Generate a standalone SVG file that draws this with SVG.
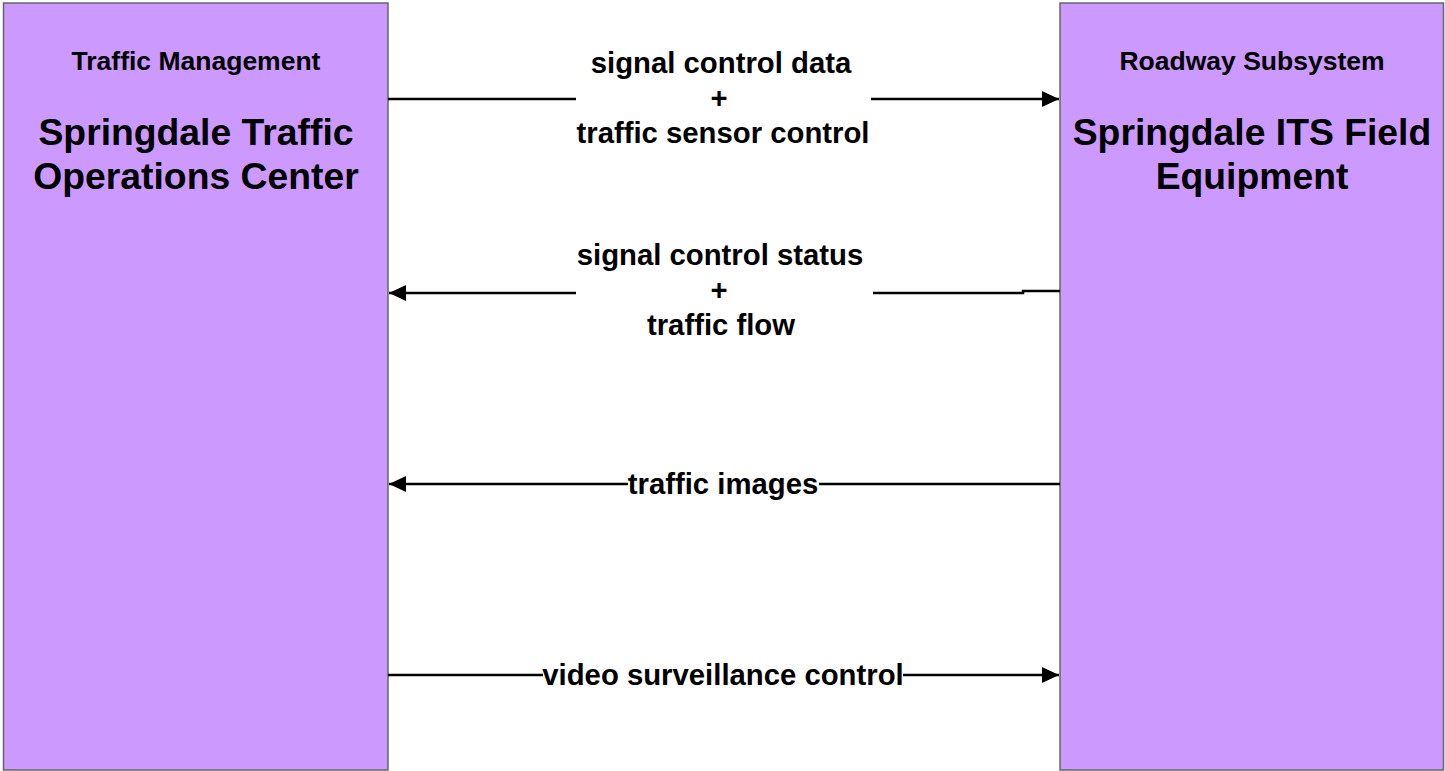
<svg xmlns="http://www.w3.org/2000/svg" width="1445" height="771" viewBox="0 0 1445 771">
<style>
.node{fill:#CC99FF;stroke:#666666;stroke-width:1.5}
.hdr{font-family:"Liberation Sans",Arial,sans-serif;font-weight:bold;font-size:26.5px;text-anchor:middle;fill:#000}
.ttl{font-family:"Liberation Sans",Arial,sans-serif;font-weight:bold;font-size:37.3px;text-anchor:middle;fill:#000}
.lbl{font-family:"Liberation Sans",Arial,sans-serif;font-weight:bold;font-size:29.3px;text-anchor:middle;fill:#000}
.ln{fill:none;stroke:#000;stroke-width:2.5}
</style>
<defs>
<marker id="ah" markerWidth="17" markerHeight="16" refX="17" refY="8" orient="auto" markerUnits="userSpaceOnUse">
<path d="M0,0 L17,8 L0,16 Z" fill="#000"/>
</marker>
</defs>
<rect width="1445" height="771" fill="#ffffff"/>
<g id="node-toc">
<rect class="node" x="3.5" y="3" width="384.5" height="767"/>
<text class="hdr" x="196" y="70">Traffic Management</text>
<text class="ttl" x="196" y="145">Springdale Traffic</text>
<text class="ttl" x="196" y="189">Operations Center</text>
</g>
<g id="node-field">
<rect class="node" x="1060" y="3" width="383.5" height="767"/>
<text class="hdr" x="1252" y="70">Roadway Subsystem</text>
<text class="ttl" x="1252" y="145">Springdale ITS Field</text>
<text class="ttl" x="1252" y="189">Equipment</text>
</g>
<g id="connectors">
<path class="ln" d="M388,99 L576,99"/>
<path class="ln" d="M871,99 L1059,99" marker-end="url(#ah)"/>
<text class="lbl" x="721" y="73">signal control data</text>
<text class="lbl" x="719" y="108">+</text>
<text class="lbl" x="723" y="143">traffic sensor control</text>
<path class="ln" d="M1060,291 L1023,291 L1023,293 L873,293"/>
<path class="ln" d="M576,293 L389,293" marker-end="url(#ah)"/>
<text class="lbl" x="720" y="265">signal control status</text>
<text class="lbl" x="719" y="300">+</text>
<text class="lbl" x="721" y="335">traffic flow</text>
<path class="ln" d="M1060,484 L819,484"/>
<path class="ln" d="M628,484 L389,484" marker-end="url(#ah)"/>
<text class="lbl" x="723" y="494">traffic images</text>
<path class="ln" d="M388,675 L543,675"/>
<path class="ln" d="M903,675 L1059,675" marker-end="url(#ah)"/>
<text class="lbl" x="723" y="685">video surveillance control</text>
</g>
</svg>
